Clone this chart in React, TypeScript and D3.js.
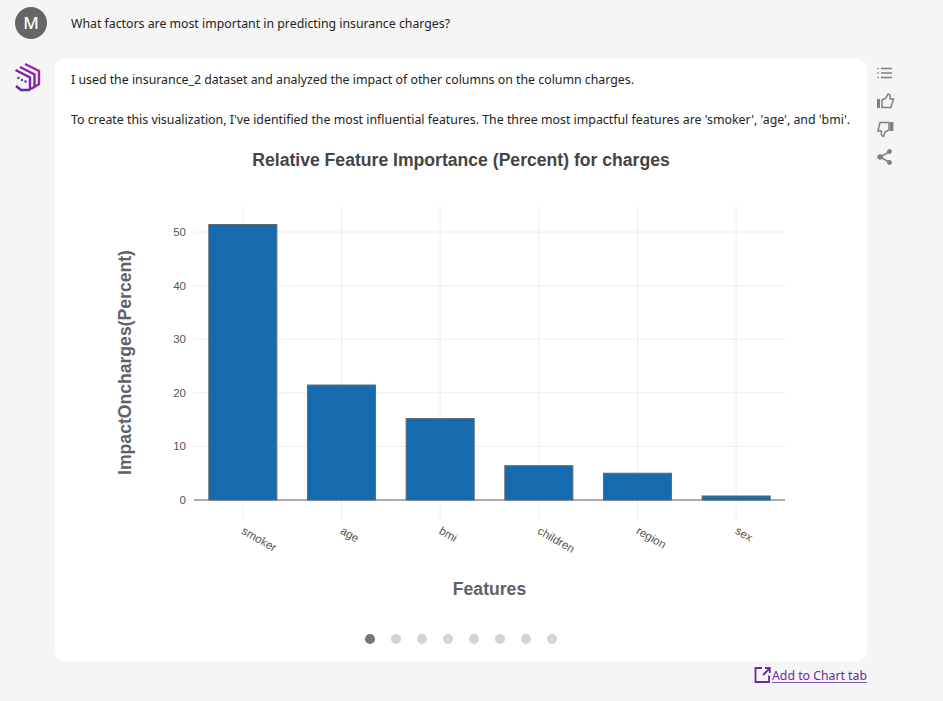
import React from "react";
import * as d3 from "d3";

const categories = ["smoker", "age", "bmi", "children", "region", "sex"];
const impactValues = [51.4, 21.45, 15.2, 6.4, 5.0, 0.75];
const yTicks = [0, 10, 20, 30, 40, 50];
const dots = [0, 1, 2, 3, 4, 5, 6, 7];
const question = "What factors are most important in predicting insurance charges?";
const line1 = "I used the insurance_2 dataset and analyzed the impact of other columns on the column charges.";
const line2 = "To create this visualization, I've identified the most influential features. The three most impactful features are 'smoker', 'age', and 'bmi'.";
const chartTitle = "Relative Feature Importance (Percent) for charges";
const xTitle = "Features";
const yTitle = "ImpactOncharges(Percent)";

const UI = "'Noto Sans', sans-serif";
const CHART = "'Liberation Sans', Arial, sans-serif";

export default function App() {
  const x = d3.scaleBand<string>().domain(categories).range([193.5, 785.5]).paddingInner(0.3).paddingOuter(0.15);
  const y = d3.scaleLinear().domain([0, 50]).range([500, 232]);
  const dotX = d3.scaleLinear().domain([0, 7]).range([370, 552]);
  return (
    <svg width={943} height={701} style={{ position: "fixed", left: 0, top: 0, display: "block" }}>
      <rect width={943} height={701} fill="#f5f5f5" />
      <circle cx={31} cy={23} r={16} fill="#666666" />
      <text x={31} y={29} textAnchor="middle" fontFamily={UI} fontSize={17} fontWeight={500} fill="#fff">M</text>
      <text x={71} y={28} fontFamily={UI} fontSize={13} fill="#222" textLength={379} lengthAdjust="spacingAndGlyphs">{question}</text>

      <g fill="none" strokeWidth={2.4} strokeLinejoin="miter">
        <path d="M25 64 L39 71 V84 L31 89" stroke="#a01fb0" />
        <path d="M20 67 L34.5 74.5 V87" stroke="#8f20ae" />
        <path d="M15.5 70 L30 77.5 V90" stroke="#7d23ab" />
        <path d="M16 86 L21 90 H30" stroke="#5b2bb0" />
      </g>
      <g fill="#5b2bb0">
        <circle cx={18.5} cy={78} r={1.2} /><circle cx={22} cy={80} r={1.2} /><circle cx={25.5} cy={81.5} r={1.2} />
      </g>

      <rect x={55} y={59} width={812} height={602} rx={9} fill="#fff" />
      <text x={71} y={84} fontFamily={UI} fontSize={13} fill="#222" textLength={563} lengthAdjust="spacingAndGlyphs">{line1}</text>
      <text x={71} y={124} fontFamily={UI} fontSize={13} fill="#222" textLength={779} lengthAdjust="spacingAndGlyphs">{line2}</text>

      <text x={461} y={166} textAnchor="middle" fontFamily={CHART} fontSize={17.6} fontWeight={700} fill="#444">{chartTitle}</text>

      {yTicks.map((t) => (
        <g key={t}>
          {t > 0 && <line x1={194} x2={785} y1={y(t)} y2={y(t)} stroke="#eeeeee" />}
          <text x={186} y={y(t) + 4} textAnchor="end" fontFamily={CHART} fontSize={11.5} fill="#555">{t}</text>
        </g>
      ))}
      {categories.map((c) => {
        const cx = x(c)! + x.bandwidth() / 2;
        return <line key={c} x1={cx} x2={cx} y1={205} y2={520} stroke="#eeeeee" />;
      })}
      {categories.map((c, i) => (
        <rect key={c} x={x(c)! + 0.5} y={y(impactValues[i])} width={x.bandwidth() - 1} height={500 - y(impactValues[i])}
          fill="#156bad" stroke="#5f6b75" strokeWidth={1} />
      ))}
      <line x1={194} x2={785} y1={500} y2={500} stroke="#555b63" strokeWidth={1} />
      {categories.map((c) => {
        const cx = x(c)! + x.bandwidth() / 2;
        return (
          <text key={c} transform={`translate(${cx - 2},${533}) rotate(30)`} textAnchor="start"
            fontFamily={CHART} fontSize={11.5} fill="#555">{c}</text>
        );
      })}
      <text x={489.5} y={595} textAnchor="middle" fontFamily={CHART} fontSize={17.6} fontWeight={700} fill="#5f6068">{xTitle}</text>
      <text transform="translate(131,362.5) rotate(-90)" textAnchor="middle" fontFamily={CHART} fontSize={17.6} fontWeight={700} fill="#5f6068">{yTitle}</text>

      {dots.map((d) => (
        <circle key={d} cx={dotX(d)} cy={639} r={5} fill={d === 0 ? "#757575" : "#d3d3d3"} />
      ))}

      <g fill="none" stroke="#808080" strokeWidth={1.5}>
        <path d="M881 68.5H892M881 73H892M881 77.5H892" />
        <path d="M877 68.5H879M877 73H879M877 77.5H879" strokeWidth={1} />
        <path d="M882 100L886 98L888 94C890 94 890.5 96 890 99H893.5L891 107.5H882Z" />
      </g>
      <rect x={877} y={99} width={3} height={9} fill="#808080" />
      <g fill="none" stroke="#808080" strokeWidth={1.5}>
        <path d="M889 130L885 132L883.5 136.5C881.5 136.5 881 134 881.5 131H878L880 122.5H889Z" />
      </g>
      <rect x={890} y={122} width={3.4} height={9} fill="#808080" />
      <g fill="#808080" stroke="#808080">
        <path d="M889 152L880 157L889 162" fill="none" strokeWidth={1.5} />
        <circle cx={889.5} cy={151.5} r={2} /><circle cx={880} cy={157} r={2.3} /><circle cx={889.5} cy={162.5} r={2} />
      </g>

      <g fill="none" stroke="#6a2aa5" strokeWidth={1.8}>
        <path d="M762 668H755.5V682H769V675.5" />
        <path d="M763 675L769.5 668.5M765 668H769.8V673" />
      </g>
      <text x={772} y={680} fontFamily={UI} fontSize={13} fill="#6a2aa5" textLength={95} lengthAdjust="spacingAndGlyphs">Add to Chart tab</text>
      <line x1={772} x2={867} y1={682.5} y2={682.5} stroke="#6a2aa5" strokeWidth={0.8} />
    </svg>
  );
}
